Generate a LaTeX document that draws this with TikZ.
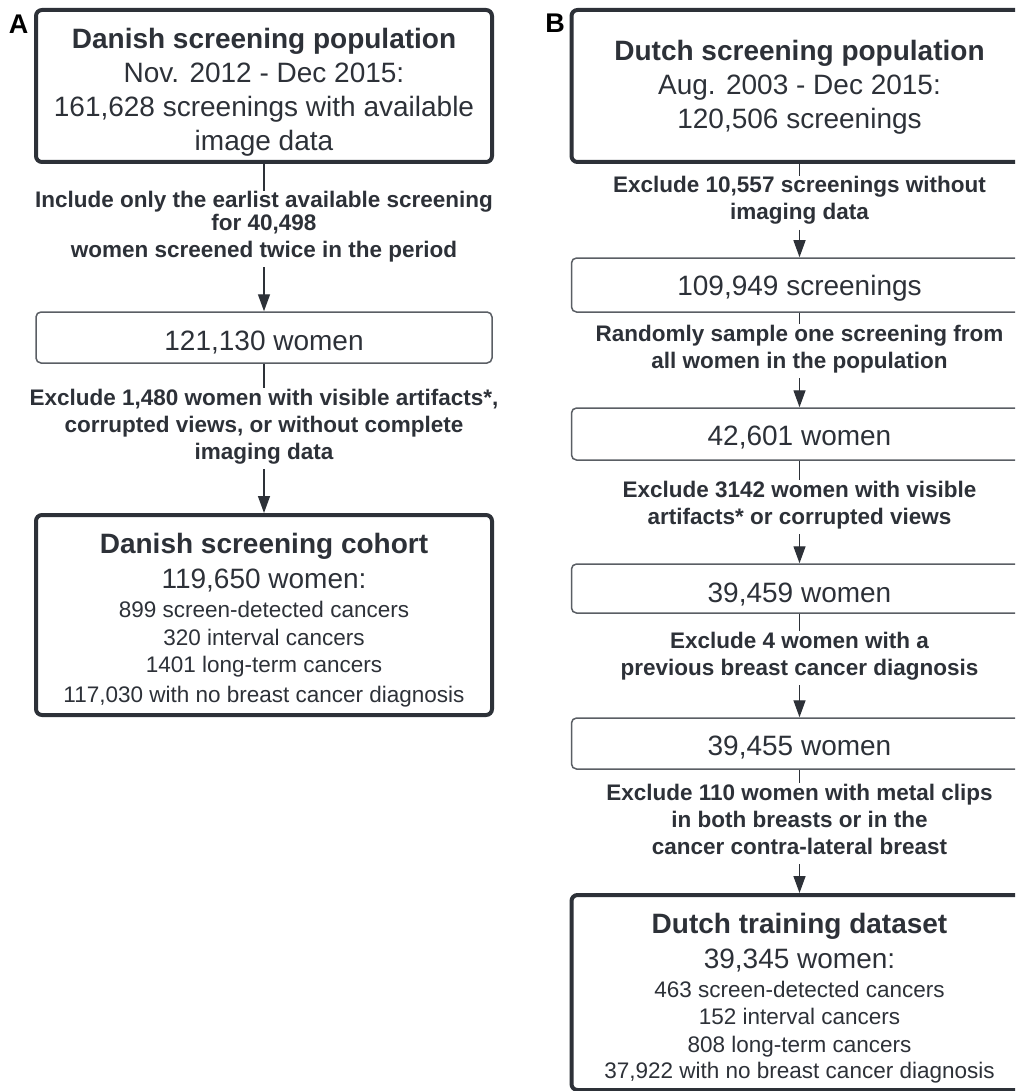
\documentclass[tikz,border=0pt]{standalone}
\usepackage{fontspec}
\setmainfont{Liberation Sans}
\usetikzlibrary{arrows.meta}
\definecolor{ink}{RGB}{45,49,56}
\definecolor{thinline}{RGB}{90,94,100}
\begin{document}
\begin{tikzpicture}[x=1pt,y=-1pt,
  bigbox/.style={draw=ink,line width=4pt,rounded corners=6pt,minimum width=456pt,inner sep=0pt},
  smallbox/.style={draw=thinline,line width=1.5pt,rounded corners=5pt,minimum width=456pt,inner sep=0pt},
  boxtext/.style={anchor=north,align=center,inner sep=0pt,text=ink,font=\fontsize{28}{34}\selectfont},
  listtext/.style={anchor=north,align=center,inner sep=0pt,text=ink,font=\fontsize{28}{28}\selectfont},
  lbl/.style={anchor=north,align=center,inner sep=0pt,outer sep=0pt,text=ink,font=\bfseries\fontsize{22.5}{27}\selectfont},
  panel/.style={text=black,font=\bfseries\fontsize{27}{30}\selectfont,inner sep=0pt},
  conn/.style={draw=ink,line width=1.4pt},
  arr/.style={conn,-{Triangle[width=12pt,length=17pt]}},
]
\useasboundingbox (0,0) rectangle (1015,1091);
\fill[white] (0,0) rectangle (1015,1091);
\clip (0,0) rectangle (1015,1091);

% ---------------- Panel A ----------------
\node[panel] (pa) at (18.5,24) {A};
\node[bigbox,minimum height=152pt] (a1) at (264,86) {};
\node[boxtext] (a1t) at (264,26) {\rule{0pt}{22pt}{\bfseries Danish screening population}\\Nov. 2012 - Dec 2015:\\161,628 screenings with available\\image data};

\node[lbl] (la1) at (264,191) {\rule{0pt}{17pt}Include only the earlist available screening\\[-5pt]for 40,498\\women screened twice in the period\rule[-10pt]{0pt}{10pt}};

\node[smallbox,minimum height=51pt] (a2) at (264,337.5) {};
\node[boxtext] (a2t) at (264,328) {\rule{0pt}{22pt}121,130 women};

\node[lbl] (la2) at (264,388) {\rule{0pt}{17pt}Exclude 1,480 women with visible artifacts*,\\corrupted views, or without complete\\imaging data\rule[-10pt]{0pt}{10pt}};

\node[bigbox,minimum height=200pt] (a3) at (264,615) {};
\node[listtext] (a3t) at (264,531) {\rule{0pt}{22pt}{\bfseries Danish screening cohort}\\[7pt]119,650 women:\\[1pt]{\fontsize{22.5}{28}\selectfont 899 screen-detected cancers}\\{\fontsize{22.5}{28}\selectfont 320 interval cancers}\\[-1pt]{\fontsize{22.5}{28}\selectfont 1401 long-term cancers}\\[2pt]{\fontsize{22.5}{28}\selectfont 117,030 with no breast cancer diagnosis}};

\draw[conn] (a1) -- (la1);
\draw[arr] (la1) -- (a2);
\draw[conn] (a2) -- (la2);
\draw[arr] (la2) -- (a3);

% ---------------- Panel B ----------------
\node[panel] (pb) at (555,23.5) {B};
\node[bigbox,minimum height=152pt] (b1) at (799.5,86) {};
\node[boxtext] (b1t) at (799.5,38) {\rule{0pt}{22pt}{\bfseries Dutch screening population}\\Aug. 2003 - Dec 2015:\\120,506 screenings};

\node[lbl] (lb1) at (799.5,176) {\rule{0pt}{17pt}Exclude 10,557 screenings without\\imaging data\rule[-10pt]{0pt}{10pt}};

\node[smallbox,minimum height=54pt] (b2) at (799.5,285) {};
\node[boxtext] (b2t) at (799.5,273) {\rule{0pt}{22pt}109,949 screenings};

\node[lbl] (lb2) at (799.5,324) {\rule{0pt}{17pt}Randomly sample one screening from\\all women in the population\rule[-10pt]{0pt}{10pt}};

\node[smallbox,minimum height=52pt] (b3) at (799.5,434) {};
\node[boxtext] (b3t) at (799.5,423) {\rule{0pt}{22pt}42,601 women};

\node[lbl] (lb3) at (799.5,480) {\rule{0pt}{17pt}Exclude 3142 women with visible\\artifacts* or corrupted views\rule[-10pt]{0pt}{10pt}};

\node[smallbox,minimum height=49pt] (b4) at (799.5,588.5) {};
\node[boxtext] (b4t) at (799.5,580) {\rule{0pt}{22pt}39,459 women};

\node[lbl] (lb4) at (799.5,631) {\rule{0pt}{17pt}Exclude 4 women with a\\previous breast cancer diagnosis\rule[-10pt]{0pt}{10pt}};

\node[smallbox,minimum height=51pt] (b5) at (799.5,743.5) {};
\node[boxtext] (b5t) at (799.5,733) {\rule{0pt}{22pt}39,455 women};

\node[lbl] (lb5) at (799.5,783) {\rule{0pt}{17pt}Exclude 110 women with metal clips\\in both breasts or in the\\cancer contra-lateral breast\rule[-10pt]{0pt}{10pt}};

\node[bigbox,minimum height=195pt] (b6) at (799.5,992.5) {};
\node[listtext] (b6t) at (799.5,911) {\rule{0pt}{22pt}{\bfseries Dutch training dataset}\\[7pt]39,345 women:\\[1pt]{\fontsize{22.5}{28}\selectfont 463 screen-detected cancers}\\[-1pt]{\fontsize{22.5}{28}\selectfont 152 interval cancers}\\{\fontsize{22.5}{28}\selectfont 808 long-term cancers}\\[-2pt]{\fontsize{22.5}{28}\selectfont 37,922 with no breast cancer diagnosis}};

\draw[conn] (b1) -- (lb1);
\draw[arr] (lb1) -- (b2);
\draw[conn] (b2) -- (lb2);
\draw[arr] (lb2) -- (b3);
\draw[conn] (b3) -- (lb3);
\draw[arr] (lb3) -- (b4);
\draw[conn] (b4) -- (lb4);
\draw[arr] (lb4) -- (b5);
\draw[conn] (b5) -- (lb5);
\draw[arr] (lb5) -- (b6);
\end{tikzpicture}
\end{document}
